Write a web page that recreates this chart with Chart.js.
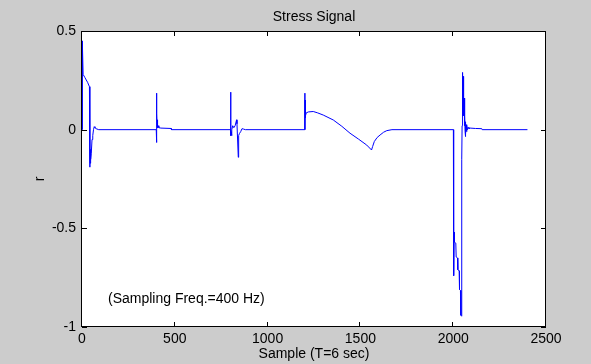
<!DOCTYPE html>
<html>
<head>
<meta charset="utf-8">
<title>Stress Signal</title>
<script src="https://cdn.jsdelivr.net/npm/chart.js@4.4.1/dist/chart.umd.min.js"></script>
<style>
  html, body { margin: 0; padding: 0; background: #cccccc; }
  canvas { display: block; }
</style>
</head>
<body>
<canvas id="myChart" width="591" height="364"></canvas>
<script>
// Chart - Data

var sampleIdx = [
  0, 0, 1, 2, 3, 4, 5, 6, 15, 30, 40, 42, 43, 44, 45, 46, 47, 48, 50, 54, 58, 62, 66, 70, 76, 90,
  400, 401, 401, 402, 403, 404, 405, 406, 408, 410, 414, 425, 480, 482,
  800, 801, 802, 804, 806, 808, 812, 818, 825, 833, 835, 842, 844, 848, 855, 862, 870, 880,
  1200, 1201, 1201, 1202, 1203, 1204, 1205, 1208, 1220, 1246, 1270, 1300, 1354, 1400, 1444, 1490, 1534, 1560,
  1566, 1575, 1590, 1606, 1625, 1642, 1670,
  2001, 2001, 2004, 2005, 2007, 2014, 2016, 2023, 2025, 2032, 2034, 2039, 2041, 2045, 2046,
  2048, 2049, 2050, 2051, 2052, 2053, 2054, 2055, 2056, 2057, 2058, 2059, 2060, 2061, 2062, 2063, 2064,
  2065, 2066, 2067, 2068, 2070, 2072, 2074, 2077, 2080, 2085, 2091, 2120, 2154, 2156, 2400
];
var stressR = [
  0, 0.43, 0.45, 0.38, 0.44, 0.39, 0.42, 0.28, 0.265, 0.24, 0.218, -0.19, -0.10, -0.17, -0.11, -0.16, -0.10, -0.15, -0.12, -0.05, -0.03, 0.0, 0.015, 0.01, 0.005, 0,
  0, 0.185, -0.065, 0.12, 0.0, 0.08, 0.01, 0.05, 0.01, 0.02, 0.01, 0.008, 0.006, 0,
  0, 0.19, -0.03, -0.01, -0.03, 0.0, 0.02, 0.01, 0.02, 0.05, 0.03, -0.14, -0.03, -0.02, -0.01, 0.005, 0.003, 0,
  0, 0.185, 0.0, 0.15, 0.06, 0.12, 0.07, 0.085, 0.09, 0.092, 0.085, 0.074, 0.049, 0.017, -0.018, -0.048, -0.078, -0.103,
  -0.085, -0.06, -0.04, -0.027, -0.013, -0.005, 0,
  0, -0.74, -0.74, -0.52, -0.57, -0.575, -0.645, -0.65, -0.71, -0.715, -0.81, -0.815, -0.94, -0.945, -0.15,
  0.02, 0.27, 0.08, 0.29, 0.07, 0.27, 0.1, 0.24, 0.07, 0.2, 0.08, 0.16, 0.05, 0.1, 0.02, 0.07, -0.01,
  0.04, -0.035, 0.03, -0.02, 0.025, -0.01, 0.02, 0.0, 0.012, 0.005, 0.008, 0.006, 0.005, 0, 0
];

var xTickVals = [0, 500, 1000, 1500, 2000, 2500];
var xTickLabels = ["0", "500", "1000", "1500", "2000", "2500"];
var yTickVals = [-1, -0.5, 0, 0.5];
var yTickLabels = ["-1", "-0.5", "0", "0.5"];

var chartTitle = "Stress Signal";
var xTitle = "Sample (T=6 sec)";
var yTitle = "r";
var noteText = "(Sampling Freq.=400 Hz)";
var notePos = [140, -0.86];

var points = sampleIdx.map(function (s, i) { return { x: s, y: stressR[i] }; });

Chart.defaults.font.family = "'Liberation Sans', Arial, sans-serif";
Chart.defaults.font.size = 14;
Chart.defaults.color = "#000";

// white axes box, inward ticks, texts
var matlabLook = {
  id: "matlabLook",
  beforeDatasetsDraw: function (chart) {
    var a = chart.chartArea, c = chart.ctx;
    c.save();
    c.fillStyle = "#fff";
    c.fillRect(a.left, a.top, a.right - a.left, a.bottom - a.top);
    c.restore();
  },
  afterDraw: function (chart) {
    var a = chart.chartArea, c = chart.ctx;
    var xs = chart.scales.x, ys = chart.scales.y;
    var tl = 5;
    c.save();
    c.strokeStyle = "#000";
    c.lineWidth = 1;
    c.beginPath();
    c.rect(a.left - 0.5, a.top + 0.5, a.right - a.left, a.bottom - a.top - 1);
    xTickVals.forEach(function (v) {
      var px = Math.round(xs.getPixelForValue(v)) - 0.5;
      c.moveTo(px, a.bottom); c.lineTo(px, a.bottom - tl);
      c.moveTo(px, a.top); c.lineTo(px, a.top + tl);
    });
    yTickVals.forEach(function (v) {
      var py = Math.round(ys.getPixelForValue(v)) + 0.5;
      c.moveTo(a.left, py); c.lineTo(a.left + tl, py);
      c.moveTo(a.right, py); c.lineTo(a.right - tl, py);
    });
    c.stroke();

    var cx = (a.left + a.right) / 2, cy = (a.top + a.bottom) / 2;
    c.fillStyle = "#000";
    c.font = "14px 'Liberation Sans', Arial, sans-serif";
    c.textAlign = "center";
    c.textBaseline = "middle";
    c.fillText(chartTitle, cx, a.top - 14);
    c.fillText(xTitle, cx, a.bottom + 27);
    c.save();
    c.translate(a.left - 42, cy);
    c.rotate(-Math.PI / 2);
    c.fillText(yTitle, 0, 0);
    c.restore();
    c.textAlign = "left";
    c.fillText(noteText, xs.getPixelForValue(notePos[0]), ys.getPixelForValue(notePos[1]));
    c.restore();
  }
};

var myChart = new Chart("myChart", {
  type: "line",
  data: {
    datasets: [{
      data: points,
      borderColor: "#0000ff",
      borderWidth: 1,
      pointRadius: 0,
      tension: 0,
      fill: false
    }]
  },
  options: {
    responsive: false,
    animation: false,
    events: [],
    layout: { padding: { top: 31, right: 45, bottom: 0, left: 0 } },
    plugins: {
      legend: { display: false },
      tooltip: { enabled: false }
    },
    scales: {
      x: {
        type: "linear",
        min: 0,
        max: 2500,
        afterBuildTicks: function (s) { s.ticks = xTickVals.map(function (v) { return { value: v }; }); },
        afterFit: function (s) { s.height = 37; },
        ticks: {
          autoSkip: false,
          maxRotation: 0,
          padding: 4,
          callback: function (v) { return xTickLabels[xTickVals.indexOf(v)]; }
        },
        grid: { display: false, drawTicks: false },
        border: { display: false }
      },
      y: {
        type: "linear",
        min: -1,
        max: 0.5,
        afterBuildTicks: function (s) { s.ticks = yTickVals.map(function (v) { return { value: v }; }); },
        afterFit: function (s) { s.width = 82; },
        ticks: {
          padding: 6,
          callback: function (v) { return yTickLabels[yTickVals.indexOf(v)]; }
        },
        grid: { display: false, drawTicks: false },
        border: { display: false }
      }
    }
  },
  plugins: [matlabLook]
});
</script>
</body>
</html>
